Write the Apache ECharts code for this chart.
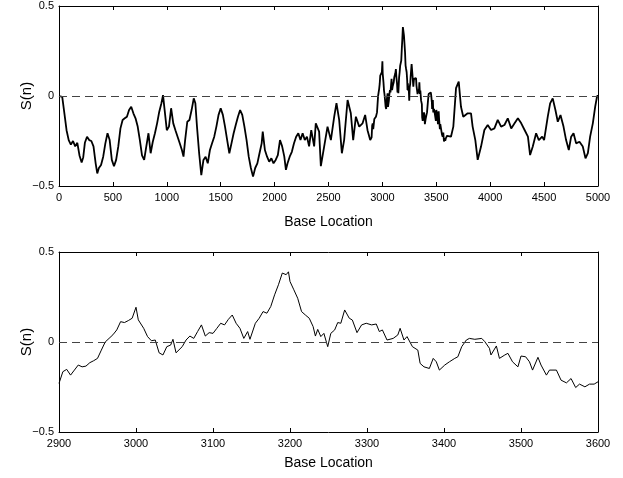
<!DOCTYPE html>
<html><head><meta charset="utf-8">
<script src="https://cdn.jsdelivr.net/npm/echarts@6/dist/echarts.min.js"></script>
<style>html,body{margin:0;padding:0;background:#fff}#c{width:623px;height:478px}</style>
</head><body><div id="c"></div>
<script>
// Base locations (x) and S(n) values
const pos = [0,30,50,70,90,110,130,150,170,190,210,225,240,260,280,300,320,340,355,370,390,410,430,450,470,490,510,530,550,570,590,610,630,650,670,690,710,730,750,770,790,810,830,850,870,890,910,930,950,965,980,1000,1020,1040,1060,1080,1100,1120,1140,1155,1170,1190,1210,1230,1250,1265,1280,1300,1320,1340,1360,1380,1400,1420,1440,1460,1480,1500,1520,1540,1560,1580,1600,1620,1640,1660,1680,1700,1720,1740,1760,1780,1800,1820,1840,1860,1880,1890,1910,1930,1950,1970,1990,2010,2030,2050,2070,2090,2105,2120,2140,2160,2180,2200,2220,2240,2260,2280,2300,2320,2340,2367,2382,2413,2429,2460,2491,2522,2553,2574,2599,2624,2645,2677,2707,2729,2754,2785,2816,2840,2862,2887,
2900,2905,2910,2915,2920,2925,2930,2935,2940,2945,2950,2955,2960,2965,2970,2975,2980,2985,2990,2995,3000,3003,3010,3015,3020,3025,3030,3035,3040,3045,3048,3052,3060,3065,3070,3075,3080,3085,3090,3095,3100,3105,3110,3115,3120,3125,3130,3135,3140,3145,3148,3155,3160,3165,3170,3175,3180,3185,3190,3195,3198,3200,3205,3210,3215,3220,3225,3230,3233,3236,3240,3244,3249,3253,3258,3262,3266,3271,3277,3281,3287,3293,3299,3306,3312,3316,3320,3326,3334,3340,3343,3348,3352,3359,3366,3369,3374,3381,3386,3390,3394,3401,3407,3414,3418,3423,3429,3433,3440,3449,3453,3459,3461,3468,3472,3479,3483,3489,3496,3500,3506,3511,3515,3522,3526,3533,3537,3546,3552,3559,3565,3571,3576,3583,3589,3595,3600,
3636,3658,3683,3708,3729,3750,3791,3822,3837,3862,3884,3915,3946,3977,4008,4039,4070,4101,4132,4163,4195,4226,4257,4288,4319,4350,4370,4395,4426,4451,4482,4500,4534,4556,4580,4605,4627,4652,4680,4704,4729,4751,4773,4797,4828,4859,4884,4906,4927,4952,4974,4992,5000];
const sn = [0,-0.005,-0.096,-0.19,-0.245,-0.27,-0.25,-0.28,-0.26,-0.33,-0.37,-0.34,-0.26,-0.226,-0.245,-0.25,-0.28,-0.374,-0.43,-0.40,-0.383,-0.337,-0.263,-0.207,-0.245,-0.355,-0.39,-0.355,-0.28,-0.18,-0.133,-0.124,-0.115,-0.078,-0.06,-0.096,-0.124,-0.17,-0.245,-0.33,-0.355,-0.28,-0.207,-0.318,-0.254,-0.207,-0.152,-0.087,-0.04,0.005,-0.078,-0.19,-0.17,-0.068,-0.152,-0.19,-0.226,-0.263,-0.30,-0.337,-0.245,-0.143,-0.133,-0.078,-0.013,-0.04,-0.17,-0.318,-0.44,-0.355,-0.337,-0.374,-0.30,-0.263,-0.226,-0.17,-0.105,-0.068,-0.105,-0.17,-0.245,-0.318,-0.263,-0.207,-0.16,-0.115,-0.078,-0.105,-0.17,-0.245,-0.337,-0.40,-0.448,-0.40,-0.374,-0.318,-0.263,-0.198,-0.30,-0.337,-0.365,-0.346,-0.374,-0.355,-0.328,-0.245,-0.28,-0.337,-0.41,-0.374,-0.337,-0.31,-0.263,-0.226,-0.207,-0.245,-0.207,-0.245,-0.226,-0.28,-0.19,-0.28,-0.152,-0.198,-0.39,-0.28,-0.17,-0.245,-0.115,-0.04,-0.133,-0.318,-0.245,-0.022,-0.096,-0.245,-0.115,-0.17,-0.152,-0.105,-0.19,-0.245,
-0.23,-0.165,-0.152,-0.184,-0.156,-0.128,-0.138,-0.134,-0.115,-0.104,-0.091,-0.045,0,0.02,0.04,0.067,0.113,0.108,0.119,0.132,0.193,0.123,0.076,0.03,0.007,0.011,-0.06,-0.072,-0.026,-0.017,0.015,-0.06,-0.026,0.011,0.033,0.02,0.058,0.095,0.033,0.052,0.048,0.076,0.104,0.095,0.126,0.15,0.104,0.076,0.02,0.058,0.015,0.104,0.132,0.169,0.16,0.197,0.262,0.318,0.383,0.374,0.39,0.336,0.29,0.243,0.169,0.15,0.132,0.086,0.033,0.07,0.03,0.048,-0.026,0.048,0.067,0.108,0.104,0.178,0.132,0.122,0.052,0.095,0.104,0.095,0.1,0.058,0.067,0.011,0.02,0.039,0.076,0.011,0.03,-0.026,-0.045,-0.119,-0.138,-0.147,-0.091,-0.11,-0.156,-0.128,-0.11,-0.091,-0.082,-0.026,0.011,0.02,0.015,0.02,0.002,-0.035,-0.072,-0.022,-0.091,-0.072,-0.063,-0.11,-0.138,-0.078,-0.082,-0.11,-0.156,-0.085,-0.128,-0.184,-0.156,-0.156,-0.212,-0.227,-0.203,-0.253,-0.234,-0.249,-0.234,-0.234,-0.221,
-0.226,-0.17,0.044,0.08,-0.06,-0.115,-0.096,-0.096,-0.17,-0.245,-0.355,-0.281,-0.189,-0.161,-0.189,-0.18,-0.133,-0.17,-0.161,-0.124,-0.18,-0.152,-0.124,-0.152,-0.189,-0.226,-0.328,-0.281,-0.207,-0.245,-0.226,-0.245,-0.115,-0.041,-0.013,-0.078,-0.143,-0.106,-0.17,-0.245,-0.30,-0.226,-0.207,-0.263,-0.254,-0.281,-0.346,-0.318,-0.226,-0.152,-0.059,0,0];
const yTicks = [-0.5, 0, 0.5];
const topRange = [0, 5000], topStep = 500;
const zoomRange = [2900, 3600], zoomStep = 100;
const xTitle = 'Base Location', yTitle = 'S(n)';

const full = pos.map((p, i) => [p, sn[i]]);
const zoomed = full.filter(d => d[0] >= zoomRange[0] && d[0] <= zoomRange[1]);

const FONT = '"Liberation Sans", Arial, Helvetica, sans-serif';
const fmtY = v => v < 0 ? '\u2212' + Math.abs(v) : String(v);
const fmtX = v => String(v);

function xAxes(gi, range, step, gap) {
  return [
    { gridIndex: gi, type: 'value', min: range[0], max: range[1], interval: step,
      axisLine: { show: true, onZero: false, lineStyle: { color: '#000', width: 1 } },
      axisTick: { inside: true, length: 4, lineStyle: { color: '#000' } },
      axisLabel: { color: '#000', fontSize: 11, fontFamily: FONT, margin: 6, formatter: fmtX, showMinLabel: true, showMaxLabel: true },
      splitLine: { show: false },
      name: xTitle, nameLocation: 'middle', nameGap: gap, nameMoveOverlap: false,
      nameTextStyle: { color: '#000', fontSize: 14, fontFamily: FONT } },
    { gridIndex: gi, type: 'value', position: 'top', min: range[0], max: range[1], interval: step,
      axisLine: { show: true, onZero: false, lineStyle: { color: '#000', width: 1 } },
      axisTick: { inside: true, length: 4, lineStyle: { color: '#000' } },
      axisLabel: { show: false }, splitLine: { show: false } }
  ];
}
function yAxes(gi) {
  return [
    { gridIndex: gi, type: 'value', min: yTicks[0], max: yTicks[2], interval: 0.5,
      axisLine: { show: true, onZero: false, lineStyle: { color: '#000', width: 1 } },
      axisTick: { inside: true, length: 4, lineStyle: { color: '#000' } },
      axisLabel: { color: '#000', fontSize: 11, fontFamily: FONT, margin: 5, formatter: fmtY, showMinLabel: true, showMaxLabel: true },
      splitLine: { show: false },
      name: yTitle, nameLocation: 'middle', nameGap: 25, nameRotate: 90, nameMoveOverlap: false,
      nameTextStyle: { color: '#000', fontSize: 15, fontFamily: FONT } },
    { gridIndex: gi, type: 'value', position: 'right', min: yTicks[0], max: yTicks[2], interval: 0.5,
      axisLine: { show: true, onZero: false, lineStyle: { color: '#000', width: 1 } },
      axisTick: { inside: true, length: 4, lineStyle: { color: '#000' } },
      axisLabel: { show: false }, splitLine: { show: false } }
  ];
}
const zeroLine = {
  silent: true, symbol: 'none', label: { show: false },
  lineStyle: { color: '#444', type: [8, 5], width: 1 },
  data: [{ yAxis: 0 }]
};

const chart = echarts.init(document.getElementById('c'), null, { renderer: 'canvas' });
chart.setOption({
  animation: false,
  backgroundColor: '#fff',
  grid: [
    { left: 59, right: 25, top: 6, height: 180 },
    { left: 59, right: 25, top: 252, height: 180 }
  ],
  xAxis: [...xAxes(0, topRange, topStep, 29), ...xAxes(1, zoomRange, zoomStep, 24)],
  yAxis: [...yAxes(0), ...yAxes(1)],
  series: [
    { type: 'line', xAxisIndex: 0, yAxisIndex: 0, data: full, showSymbol: false,
      lineStyle: { color: '#000', width: 1.8 }, markLine: zeroLine },
    { type: 'line', xAxisIndex: 2, yAxisIndex: 2, data: zoomed, showSymbol: false,
      lineStyle: { color: '#000', width: 1 }, markLine: zeroLine }
  ]
});
</script></body></html>
